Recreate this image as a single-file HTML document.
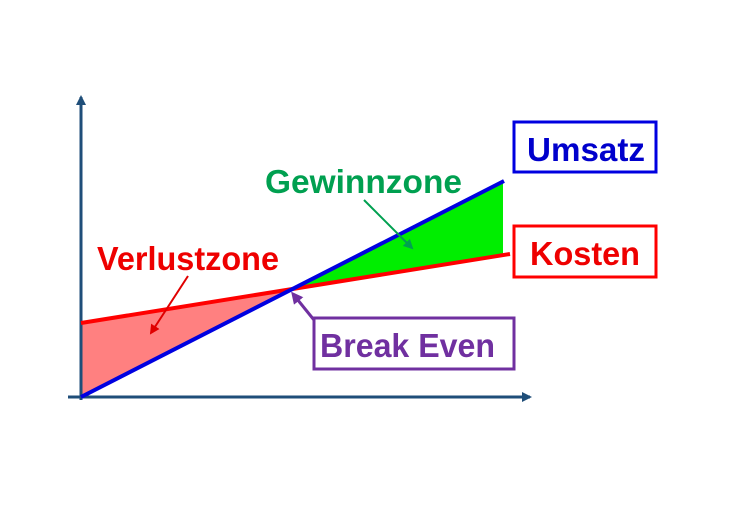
<!DOCTYPE html>
<html><head><style>
html,body{margin:0;padding:0;background:#fff;}
svg{display:block;}
text{font-family:"Liberation Sans",sans-serif;font-weight:bold;}
</style></head><body>
<svg width="730" height="530" viewBox="0 0 730 530">
<defs>
<marker id="ax" markerWidth="10" markerHeight="10" refX="8" refY="5" orient="auto" markerUnits="userSpaceOnUse"><path d="M0,0 L10,5 L0,10 z" fill="#1f4e79"/></marker>
<marker id="ag" markerWidth="10" markerHeight="10" refX="8" refY="5" orient="auto" markerUnits="userSpaceOnUse"><path d="M0,0 L10,5 L0,10 z" fill="#00a050"/></marker>
<marker id="ar" markerWidth="10" markerHeight="10" refX="8" refY="5" orient="auto" markerUnits="userSpaceOnUse"><path d="M0,0 L10,5 L0,10 z" fill="#e00000"/></marker>
<marker id="ap" markerWidth="12" markerHeight="12" refX="9" refY="6" orient="auto" markerUnits="userSpaceOnUse"><path d="M0,0 L12,6 L0,12 z" fill="#7030a0"/></marker>
</defs>
<polygon points="81,323 81,397 290,290" fill="#ff8080"/>
<polygon points="290,290 503,182 503,254" fill="#00ee00"/>
<line x1="81" y1="400" x2="81" y2="97" stroke="#1f4e79" stroke-width="3" marker-end="url(#ax)"/>
<line x1="68" y1="397" x2="530" y2="397" stroke="#1f4e79" stroke-width="3" marker-end="url(#ax)"/>
<line x1="81" y1="323" x2="510" y2="254" stroke="#ff0000" stroke-width="4"/>
<line x1="81" y1="397" x2="504" y2="181" stroke="#0000e0" stroke-width="4"/>
<line x1="364" y1="200" x2="412" y2="248" stroke="#00a050" stroke-width="2" marker-end="url(#ag)"/>
<line x1="188" y1="276" x2="151" y2="333" stroke="#e00000" stroke-width="2" marker-end="url(#ar)"/>
<line x1="314" y1="320" x2="293" y2="294" stroke="#7030a0" stroke-width="3" marker-end="url(#ap)"/>
<rect x="514" y="122" width="142" height="50" fill="#fff" stroke="#0000e0" stroke-width="3"/>
<text x="527" y="161" font-size="33" fill="#0000cc" textLength="118" lengthAdjust="spacingAndGlyphs">Umsatz</text>
<rect x="514" y="226" width="142" height="51" fill="#fff" stroke="#ff0000" stroke-width="3"/>
<text x="530" y="265" font-size="33" fill="#ee0000" textLength="110" lengthAdjust="spacingAndGlyphs">Kosten</text>
<rect x="314" y="318" width="200" height="51" fill="#fff" stroke="#7030a0" stroke-width="3"/>
<text x="320" y="357" font-size="33" fill="#7030a0" textLength="175" lengthAdjust="spacingAndGlyphs">Break Even</text>
<text x="265" y="193" font-size="33" fill="#00a050" textLength="197" lengthAdjust="spacingAndGlyphs">Gewinnzone</text>
<text x="97" y="270" font-size="33" fill="#ee0000" textLength="182" lengthAdjust="spacingAndGlyphs">Verlustzone</text>
</svg>
</body></html>
